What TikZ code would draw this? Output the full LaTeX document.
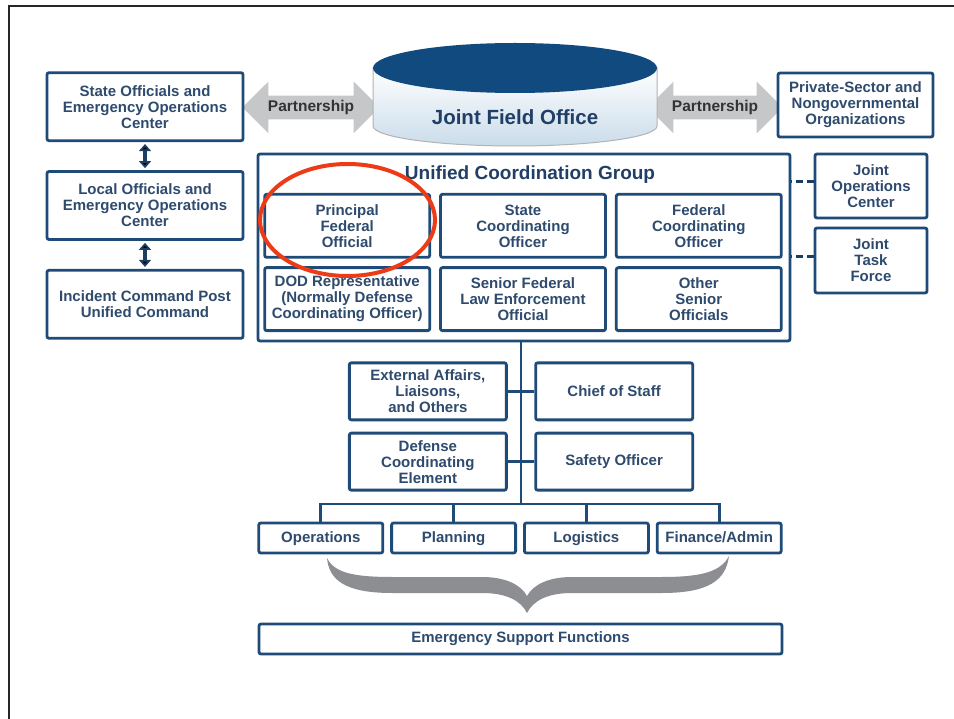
\documentclass[tikz,border=0pt]{standalone}
\usepackage{fontspec}
\setmainfont{Liberation Sans}
\usetikzlibrary{matrix,arrows.meta,shapes.arrows}

\definecolor{frameblue}{HTML}{1E4B77}
\definecolor{textblue}{HTML}{2E4B6E}
\definecolor{titleblue}{HTML}{213F66}
\definecolor{jfoblue}{HTML}{104A7E}
\definecolor{bodyblue}{HTML}{CADCEA}
\definecolor{arrowgray}{HTML}{C6C7C8}
\definecolor{bracegray}{HTML}{8C8E91}
\definecolor{redring}{HTML}{EE3B17}
\definecolor{darknavy}{HTML}{1B3F63}

\tikzset{
  orgbox/.style={draw=frameblue, line width=2.8pt, rounded corners=2pt, fill=white,
    text=textblue, align=center, inner sep=1pt,
    font=\fontsize{15}{16}\selectfont\bfseries},
  leftbox/.style={orgbox, minimum width=196pt, minimum height=68pt},
  ucgcell/.style={orgbox, minimum width=165pt, minimum height=63pt},
  staffbox/.style={orgbox, minimum width=157pt, minimum height=57pt},
  sectbox/.style={orgbox, minimum width=124pt, minimum height=30pt,
    text height=11pt, text depth=3pt},
  sidebox/.style={orgbox, minimum width=112pt, minimum height=64pt},
  partner/.style={shape=double arrow, double arrow head extend=14pt,
    double arrow tip angle=90, fill=arrowgray, inner xsep=2pt, inner ysep=4.5pt,
    text=black!80, font=\fontsize{15.5}{16}\selectfont\bfseries},
  link/.style={draw=frameblue, line width=2.8pt},
  dashlink/.style={draw=darknavy, line width=3pt, dash pattern=on 7pt off 4pt},
  updown/.style={draw=darknavy, line width=3.5pt,
    {Triangle[width=12pt,length=7pt]}-{Triangle[width=12pt,length=7pt]},
    shorten <=2pt, shorten >=2pt}
}

\begin{document}
\begin{tikzpicture}[x=1pt, y=-1pt]
  \useasboundingbox (0,0) rectangle (954,719);
  \draw[line width=2pt, black!85] (9,719) -- (9,6) -- (954,6);

  \node[partner, minimum height=137pt] (partl) at (311,107.5) {Partnership};
  \node[partner, minimum height=135pt] (partr) at (715,107.5) {Partnership};

  \shade[top color=white, bottom color=bodyblue, draw=gray!60, line width=1pt]
    (373,68) -- (373,126) arc[start angle=180, end angle=360, x radius=142pt, y radius=20pt]
    -- (657,68) -- cycle;
  \fill[jfoblue] (515,68) ellipse[x radius=142pt, y radius=25pt];
  \node[text=titleblue, font=\fontsize{20.5}{22}\selectfont\bfseries] (jfo) at (515,117) {Joint Field Office};

  \matrix (leftcol) [row sep=28pt] at (145,205.5) {
    \node[leftbox] (state) {State Officials and\\Emergency Operations\\Center}; \\
    \node[leftbox] (local) {Local Officials and\\Emergency Operations\\Center}; \\
    \node[leftbox] (icp) {Incident Command Post\\Unified Command}; \\
  };

  \node[orgbox, minimum width=155pt, minimum height=64pt] (ngo) at (855.5,105)
    {Private-Sector and\\Nongovernmental\\Organizations};

  \node[orgbox, minimum width=532pt, minimum height=187pt] (ucgbox) at (524,247.5) {};
  \node[text=titleblue, font=\fontsize{19}{20}\selectfont\bfseries] (ucgtitle) at (530,175)
    {Unified Coordination Group};
  \matrix (ucg) [row sep=7.5pt, column sep=8pt] at (523,262.5) {
    \node[ucgcell] (pfo) {Principal\\Federal\\Official}; &
    \node[ucgcell] (sco) {State\\Coordinating\\Officer}; &
    \node[ucgcell] (fco) {Federal\\Coordinating\\Officer}; \\
    \node[ucgcell] (dod) {DOD Representative\\(Normally Defense\\Coordinating Officer)}; &
    \node[ucgcell] (sfleo) {Senior Federal\\Law Enforcement\\Official}; &
    \node[ucgcell] (oso) {Other\\Senior\\Officials}; \\
  };

  \node[sidebox] (joc) at (871,186) {Joint\\Operations\\Center};
  \node[sidebox, minimum height=65pt] (jtf) at (871,260.5) {Joint\\Task\\Force};

  \matrix (staff) [row sep=10.5pt, column sep=26.5pt] at (521,426.5) {
    \node[staffbox] (extaff) {External Affairs,\\Liaisons,\\and Others}; &
    \node[staffbox] (cos) {Chief of Staff}; \\
    \node[staffbox] (dce) {Defense\\Coordinating\\Element}; &
    \node[staffbox] (safety) {Safety Officer}; \\
  };

  \matrix (sect) [column sep=6pt] at (520,538) {
    \node[sectbox] (ops) {Operations}; &
    \node[sectbox] (plan) {Planning}; &
    \node[sectbox] (logi) {Logistics}; &
    \node[sectbox] (fin) {Finance/Admin}; \\
  };

  \node[orgbox, minimum width=523pt, minimum height=30pt] (esf) at (520.5,639)
    {Emergency Support Functions};

  \coordinate (bus) at (521,504);
  \draw[link] (bus |- ucgbox.south) -- (bus);
  \draw[link] (ops.north) |- (bus) -| (fin.north);
  \draw[link] (plan.north) -- (plan.north |- bus);
  \draw[link] (logi.north) -- (logi.north |- bus);
  \path[link]
    (extaff) edge (cos)
    (dce) edge (safety);

  \draw[dashlink] ([yshift=4pt]joc.west) -- ([yshift=4pt]joc.west -| ucgbox.east);
  \draw[dashlink] ([yshift=4pt]jtf.west) -- ([yshift=4pt]jtf.west -| ucgbox.east);

  \path[updown]
    (state) edge (local)
    (local) edge (icp);

  \fill[bracegray] (327,558) .. controls (329,580) and (345,593) .. (392,593) -- (482,593)
    .. controls (507,593) and (521,601) .. (527,613)
    .. controls (533,601) and (547,593) .. (572,593) -- (662,593)
    .. controls (709,593) and (726,580) .. (729,556)
    .. controls (721,571) and (704,577) .. (662,577) -- (572,577)
    .. controls (548,577) and (533,585) .. (527,596)
    .. controls (521,585) and (506,577) .. (482,577) -- (392,577)
    .. controls (351,577) and (334,572) .. (327,558) -- cycle;

  \draw[redring, line width=4pt] (347.5,220) ellipse[x radius=87.5pt, y radius=56pt];
\end{tikzpicture}
\end{document}
